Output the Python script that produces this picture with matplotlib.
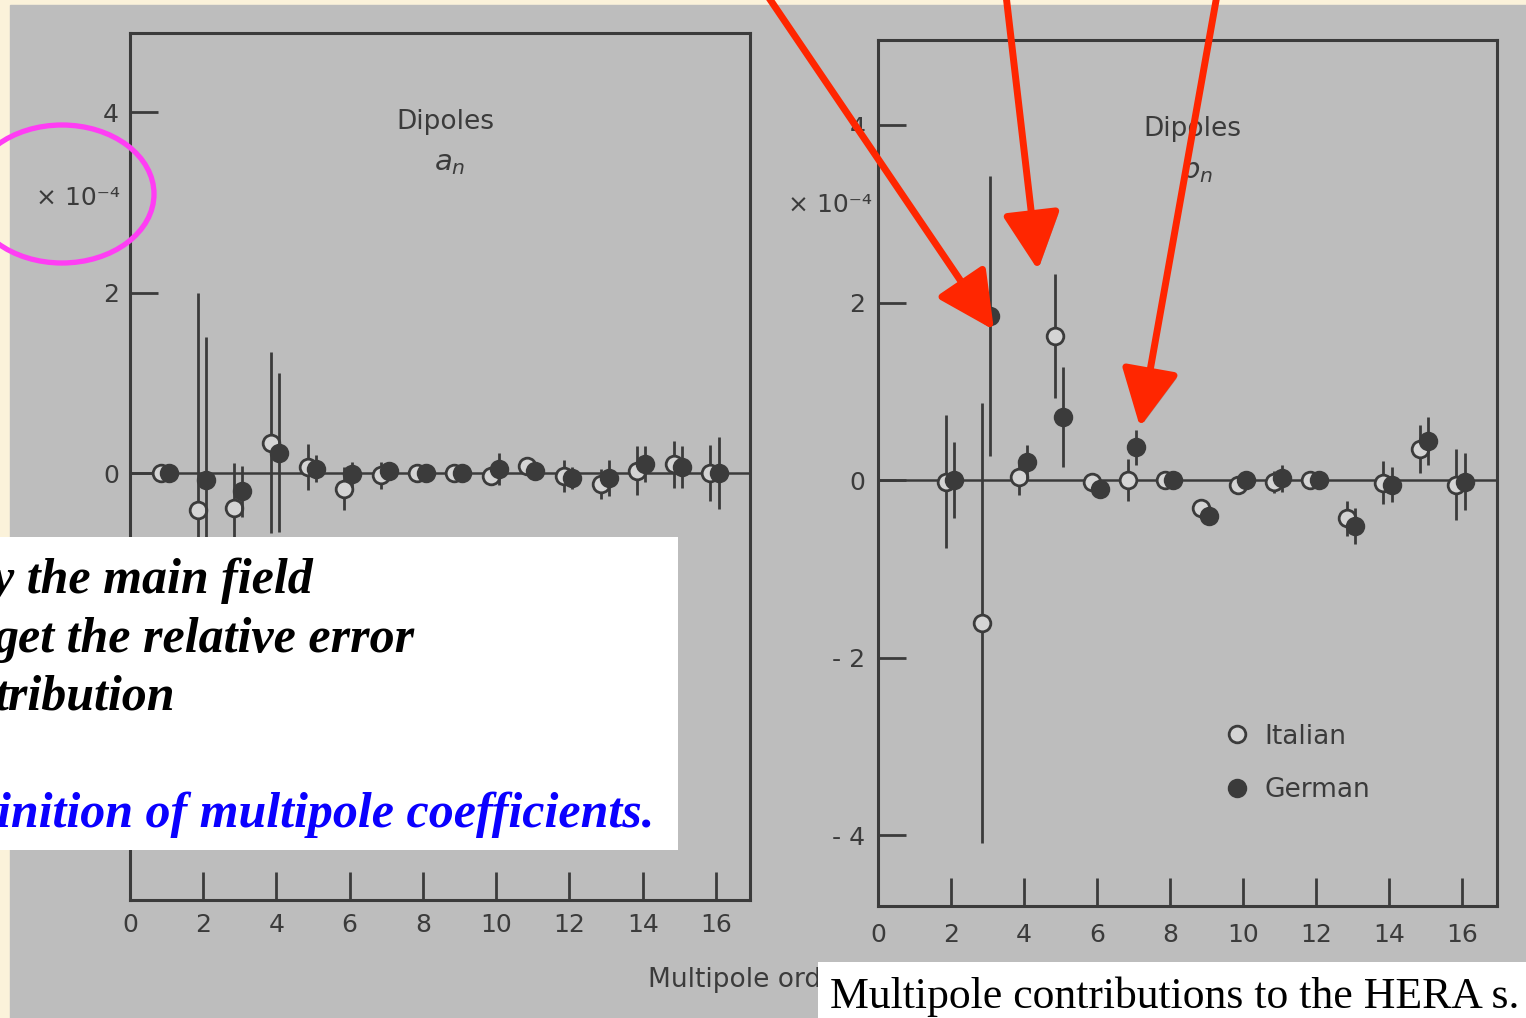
import numpy as np
import matplotlib.pyplot as plt
import matplotlib.patheffects as pe
from matplotlib.patches import Rectangle, Ellipse

W, H = 1526, 1018

# dipole skew terms a_n (left panel), units of 1e-4
n_a = [1, 2, 3, 4, 5, 6, 7, 8, 9, 10, 11, 12, 13, 14, 15, 16]
a_italian = [0.0, -0.41, -0.39, 0.34, 0.07, -0.17, -0.02, 0.0, 0.0, -0.03, 0.08, -0.03, -0.12, 0.03, 0.10, 0.0]
a_italian_err = [0.0, 2.41, 0.50, 1.0, 0.25, 0.24, 0.15, 0.10, 0.08, 0.10, 0.10, 0.18, 0.17, 0.27, 0.26, 0.31]
a_german = [0.0, -0.07, -0.20, 0.23, 0.05, -0.01, 0.03, 0.0, 0.0, 0.05, 0.03, -0.05, -0.05, 0.10, 0.07, 0.0]
a_german_err = [0.0, 1.58, 0.28, 0.88, 0.15, 0.14, 0.08, 0.10, 0.08, 0.18, 0.08, 0.12, 0.20, 0.20, 0.23, 0.40]

# dipole normal terms b_n (right panel)
n_b = [2, 3, 4, 5, 6, 7, 8, 9, 10, 11, 12, 13, 14, 15, 16]
b_italian = [-0.02, -1.61, 0.03, 1.62, -0.02, 0.0, 0.0, -0.32, -0.05, -0.02, 0.0, -0.43, -0.03, 0.35, -0.05]
b_italian_err = [0.75, 2.48, 0.20, 0.70, 0.08, 0.24, 0.05, 0.08, 0.05, 0.12, 0.05, 0.20, 0.24, 0.27, 0.40]
b_german = [0.0, 1.85, 0.20, 0.71, -0.10, 0.37, 0.0, -0.40, 0.0, 0.02, 0.0, -0.52, -0.05, 0.44, -0.02]
b_german_err = [0.43, 1.58, 0.20, 0.56, 0.05, 0.20, 0.05, 0.08, 0.05, 0.15, 0.05, 0.20, 0.20, 0.27, 0.32]

xticks = [0, 2, 4, 6, 8, 10, 12, 14, 16]
yticks = [-4, -2, 0, 2, 4]
ytick_labels = ['- 4', '- 2', '0', '2', '4']

page = '#fbf2da'
scan = '#bdbdbd'
ink = '#3b3b3b'
open_fill = '#d4d4d4'
red = '#ff2600'

fig = plt.figure(figsize=(W / 100, H / 100), dpi=100, facecolor=page)


def box(x0, y0, x1, y1):
    # pixel rectangle (top-left origin) -> figure fraction
    return [x0 / W, 1 - y1 / H, (x1 - x0) / W, (y1 - y0) / H]


# scanned page
bg = fig.add_axes([0, 0, 1, 1], zorder=0)
bg.set_xlim(0, W)
bg.set_ylim(H, 0)
bg.axis('off')
bg.add_patch(Rectangle((10, 5), W, H, color=scan))
bg.text(78, 198, '× 10⁻⁴', ha='center', va='center', size=18, color=ink)
bg.text(830, 205, '× 10⁻⁴', ha='center', va='center', size=18, color=ink)
bg.text(648, 980, 'Multipole order n', ha='left', va='center', size=19, color=ink)


def panel(rect, n, it, it_err, ge, ge_err, xlim, ylim, sym, xpad, ypad):
    ax = fig.add_axes(box(*rect), zorder=2)
    ax.set_facecolor('none')
    ax.set_xlim(*xlim)
    ax.set_ylim(*ylim)
    ax.axhline(0, color=ink, lw=1.8, zorder=1)
    x = np.array(n)
    ax.errorbar(x - 0.15, it, yerr=it_err, fmt='none', ecolor=ink, elinewidth=2, capsize=0, zorder=2)
    h1, = ax.plot(x - 0.15, it, 'o', ms=12, mfc=open_fill, mec=ink, mew=2, zorder=3, label='Italian')
    ax.errorbar(x + 0.07, ge, yerr=ge_err, fmt='none', ecolor=ink, elinewidth=2, capsize=0, zorder=4)
    h2, = ax.plot(x + 0.07, ge, 'o', ms=12, mfc=ink, mec=ink, mew=2, zorder=5, label='German')
    for s in ax.spines.values():
        s.set_color(ink)
        s.set_linewidth(2.2)
    ax.set_xticks(xticks)
    ax.set_yticks(yticks)
    ax.set_yticklabels(ytick_labels)
    ax.tick_params(direction='in', length=20, width=2, color=ink, labelcolor=ink, labelsize=18)
    ax.tick_params(axis='x', pad=xpad)
    ax.tick_params(axis='y', pad=ypad)
    ax.text(0.508, 0.897, 'Dipoles', transform=ax.transAxes, ha='center', va='center', size=19, color=ink)
    ax.text(0.515, 0.85, sym, transform=ax.transAxes, ha='center', va='center', size=21, color=ink)
    return ax, h1, h2


ax1, _, _ = panel((130, 33, 750, 900), n_a, a_italian, a_italian_err, a_german, a_german_err,
                  (0, 16.93), (-4.73, 4.88), r'$a_n$', 9, 8)
ax2, h1, h2 = panel((878, 40, 1497, 906), n_b, b_italian, b_italian_err, b_german, b_german_err,
                    (0, 16.96), (-4.80, 4.96), r'$b_n$', 12, 9)
ax2.legend(handles=[h1, h2], loc='upper left', bbox_to_anchor=(0.52, 0.238), frameon=False,
           fontsize=19, handlelength=1.0, handletextpad=0.55, labelspacing=1.05,
           labelcolor=ink, markerscale=1.0)

# slide overlay: arrows, circle, text boxes
fg = fig.add_axes([0, 0, 1, 1], zorder=10)
fg.set_xlim(0, W)
fg.set_ylim(H, 0)
fg.axis('off')

arrows = [((767, -5), (994, 330)), ((1006, -5), (1038, 270)), ((1217, -5), (1140, 427))]
for start, tip in arrows:
    fg.annotate('', xy=tip, xytext=start,
                arrowprops=dict(arrowstyle='-|>,head_length=2.2,head_width=1.1', mutation_scale=16,
                                lw=5, color=red, shrinkA=0, shrinkB=0,
                                path_effects=[pe.SimplePatchShadow(offset=(2, -2), alpha=0.25), pe.Normal()]))

fg.add_patch(Ellipse((62, 194), 184, 138, fill=False, ec='#ff3df4', lw=3.8))

fg.add_patch(Rectangle((-5, 537), 683, 313, fc='white', ec='none'))
serif = 'Liberation Serif'
fg.text(-8, 593, 'y the main field', family=serif, weight='bold', style='italic', size=36, color='black')
fg.text(-6, 652, 'get the relative error', family=serif, weight='bold', style='italic', size=36, color='black')
fg.text(-6, 710, 'tribution', family=serif, weight='bold', style='italic', size=36, color='black')
fg.text(-3, 827, 'inition of multipole coefficients.', family=serif, weight='bold', style='italic',
        size=36, color='#0a00ff')

fg.add_patch(Rectangle((818, 962), 720, 60, fc='white', ec='none'))
fg.text(830, 1008, 'Multipole contributions to the HERA s.', family=serif, size=31.5, color='black')

fig.savefig('out.png', dpi=100, facecolor=page)
